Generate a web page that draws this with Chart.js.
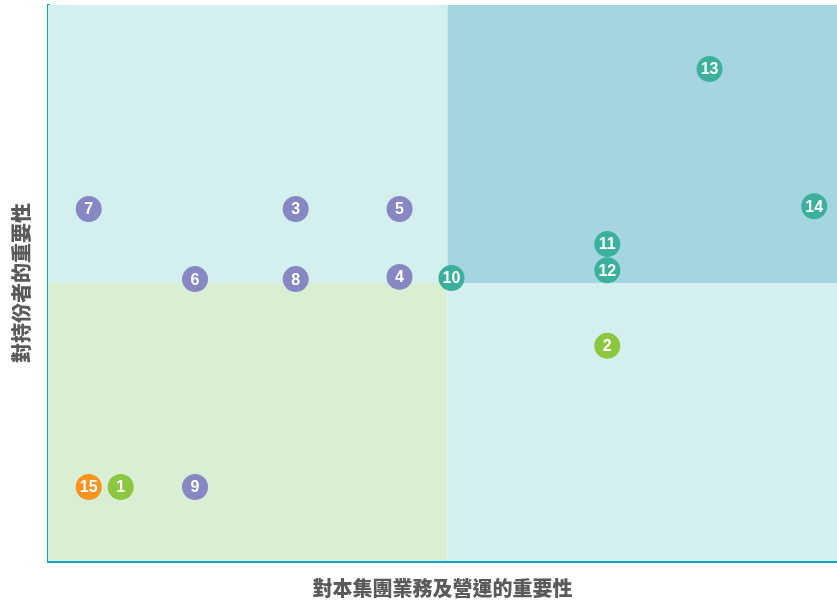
<!DOCTYPE html>
<html>
<head>
<meta charset="utf-8">
<script src="https://cdn.jsdelivr.net/npm/chart.js@4/dist/chart.umd.min.js"></script>
<style>
html,body{margin:0;padding:0;background:#fff;}
#wrap{width:837px;height:604px;}
</style>
</head>
<body>
<div id="wrap"><canvas id="c"></canvas></div>
<script>
// ---- data ----
const pointIds   = ["1","2","3","4","5","6","7","8","9","10","11","12","13","14","15"];
const xValues    = [0.91, 7.0, 3.1, 4.4, 4.4, 1.84, 0.51, 3.1, 1.84, 5.05, 7.0, 7.0, 8.28, 9.59, 0.51];
const yValues    = [1.33, 3.87, 6.33, 5.11, 6.33, 5.07, 6.33, 5.07, 1.33, 5.09, 5.70, 5.23, 8.85, 6.38, 1.33];
const groups     = ["green","green","purple","purple","purple","purple","purple","purple","purple","teal","teal","teal","teal","teal","orange"];
const xTitle = "對本集團業務及營運的重要性";
const yTitle = "對持份者的重要性";
const xSplit = 5, ySplit = 5;

// ---- styles ----
const groupColors = {purple:"#8787c4", teal:"#3bb09c", green:"#8dc63f", orange:"#f7931e"};
const quadColors = {tl:"#d3f0ef", tr:"#a5d6e0", bl:"#d9efd4", br:"#d3f0ef"};
const axisColor = "#0ba6c9";

const quadrantPlugin = {
  id: "quadrants",
  beforeDatasetsDraw(chart) {
    const {ctx, chartArea: a, scales: {x, y}} = chart;
    const sx = x.getPixelForValue(xSplit), sy = y.getPixelForValue(ySplit);
    ctx.save();
    ctx.fillStyle = quadColors.tl; ctx.fillRect(a.left, a.top, sx - a.left, sy - a.top);
    ctx.fillStyle = quadColors.tr; ctx.fillRect(sx, a.top, a.right - sx, sy - a.top);
    ctx.fillStyle = quadColors.bl; ctx.fillRect(a.left, sy, sx - a.left, a.bottom - sy);
    ctx.fillStyle = quadColors.br; ctx.fillRect(sx, sy, a.right - sx, a.bottom - sy);
    ctx.restore();
  }
};

const labelPlugin = {
  id: "pointLabels",
  afterDatasetsDraw(chart) {
    const {ctx} = chart;
    const meta = chart.getDatasetMeta(0);
    ctx.save();
    ctx.fillStyle = "#ffffff";
    ctx.font = "bold 16px 'Liberation Sans', Arial, sans-serif";
    ctx.textAlign = "center";
    ctx.textBaseline = "middle";
    meta.data.forEach((el, i) => {
      ctx.fillText(pointIds[i], el.x, el.y + 1);
    });
    ctx.restore();
  }
};

new Chart(document.getElementById("c"), {
  type: "scatter",
  data: {
    datasets: [{
      data: xValues.map((v, i) => ({x: v, y: yValues[i]})),
      backgroundColor: groups.map(g => groupColors[g]),
      borderWidth: 0,
      pointRadius: 13,
      pointHoverRadius: 13,
      clip: false
    }]
  },
  options: {
    responsive: true,
    maintainAspectRatio: false,
    animation: false,
    layout: {autoPadding: false, padding: {top: 5, right: 0, left: 9, bottom: 0}},
    plugins: {legend: {display: false}, tooltip: {enabled: false}},
    scales: {
      x: {
        min: 0, max: 9.875,
        ticks: {display: false},
        grid: {display: true, drawOnChartArea: false, drawTicks: false},
        border: {display: true, color: axisColor, width: 3},
        title: {display: true, text: xTitle, color: "#5a5a5a",
          font: {family: "'Noto Sans CJK TC', sans-serif", size: 20, weight: "900"},
          padding: {top: 15, bottom: 4}}
      },
      y: {
        min: 0, max: 10,
        ticks: {display: false},
        grid: {display: true, drawOnChartArea: false, drawTicks: false},
        border: {display: true, color: axisColor, width: 3},
        title: {display: true, text: yTitle, color: "#5a5a5a",
          font: {family: "'Noto Sans CJK TC', sans-serif", size: 20, weight: "900"},
          padding: {top: 0, bottom: 15}}
      }
    }
  },
  plugins: [quadrantPlugin, labelPlugin]
});
</script>
</body>
</html>
